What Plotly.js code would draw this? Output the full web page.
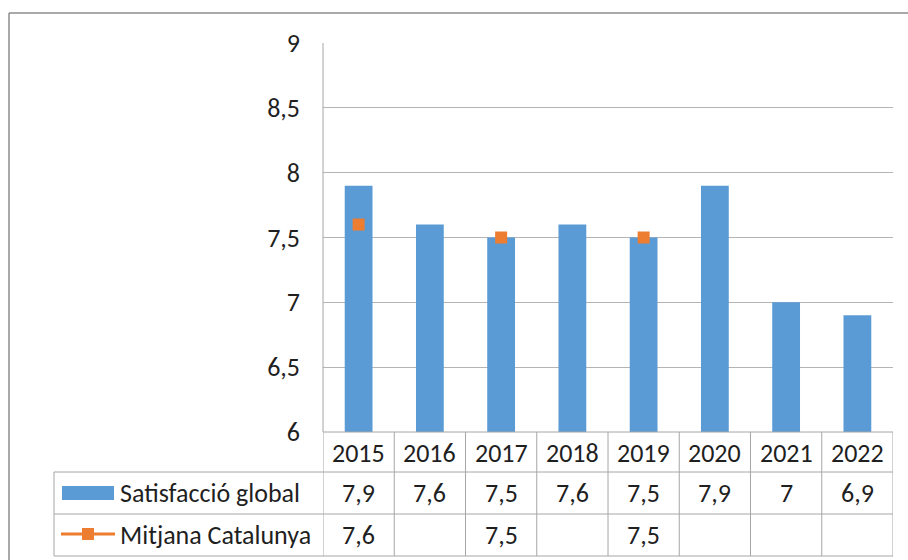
<!DOCTYPE html>
<html>
<head>
<meta charset="utf-8">
<script src="https://cdn.plot.ly/plotly-3.0.1.min.js"></script>
<style>
html,body{margin:0;padding:0;background:#fff;}
#chart{width:908px;height:560px;}
</style>
</head>
<body>
<div id="chart"></div>
<script>
// ---- data ----
const years = ["2015", "2016", "2017", "2018", "2019", "2020", "2021", "2022"];
const satisfaccio = [7.9, 7.6, 7.5, 7.6, 7.5, 7.9, 7.0, 6.9];
const mitjana = [7.6, null, 7.5, null, 7.5, null, null, null];
const seriesNames = ["Satisfacció global", "Mitjana Catalunya"];

// ---- layout helpers (pixel -> paper) ----
const W = 908, H = 560;
const M = {l: 323, r: 15, t: 43, b: 128};
const PW = W - M.l - M.r, PH = H - M.t - M.b;
const px = v => (v - M.l) / PW;
const py = v => (H - M.b - v) / PH;

const FONT = "Carlito, Lato, 'Open Sans', sans-serif";
const FS = 26;
const TXT = "#1f1f1f";
const GRID = "#B4B4B4";
const TBL = "#A6A6A6";
const BLUE = "#5B9BD5";
const ORANGE = "#ED7D31";

const idx = years.map((_, i) => i);
const fmt = v => (v === null || v === undefined) ? "" : String(v).replace(".", ",");

const traces = [
  {
    type: "bar", x: idx, y: satisfaccio, name: seriesNames[0],
    marker: {color: BLUE}, width: 0.39, hoverinfo: "skip"
  },
  {
    type: "scatter", mode: "lines+markers", x: idx, y: mitjana, name: seriesNames[1],
    connectgaps: false, line: {color: ORANGE, width: 3},
    marker: {symbol: "square", size: 12, color: ORANGE}, hoverinfo: "skip"
  }
];

const shapes = [];
const line = (x0, y0, x1, y1, color, w) => shapes.push({
  type: "line", xref: "paper", yref: "paper",
  x0: px(x0), y0: py(y0), x1: px(x1), y1: py(y1),
  line: {color: color, width: w || 1}, layer: "above"
});

// outer chart border
line(9, 13, 908, 13, "#8C8C8C", 1.5);
line(9, 13, 9, 560, "#8C8C8C", 1.5);

// axis line (plot area left)
line(M.l, M.t, M.l, H - M.b, TBL, 1);

// table horizontal lines
const right = W - M.r;
line(M.l, 432, right, 432, TBL, 1);
line(54, 472, right, 472, TBL, 1);
line(54, 514, right, 514, TBL, 1);
line(54, 556, right, 556, TBL, 1);
line(54, 472, 54, 556, TBL, 1);

// table vertical lines at category boundaries
for (let i = 0; i <= years.length; i++) {
  shapes.push({
    type: "line", xref: "x", yref: "paper",
    x0: i - 0.5, x1: i - 0.5, y0: py(432), y1: py(556),
    line: {color: TBL, width: 1}, layer: "above"
  });
}

// legend keys
shapes.push({type: "rect", xref: "paper", yref: "paper",
  x0: px(62), x1: px(114), y0: py(486), y1: py(500),
  fillcolor: BLUE, line: {width: 0}, layer: "above"});
line(61, 534, 115, 534, ORANGE, 3);
shapes.push({type: "rect", xref: "paper", yref: "paper",
  x0: px(82), x1: px(94), y0: py(528), y1: py(540),
  fillcolor: ORANGE, line: {width: 0}, layer: "above"});

const annotations = [];
const ann = (x, xref, yPix, text, xanchor) => annotations.push({
  x: x, xref: xref, y: py(yPix), yref: "paper", text: text,
  showarrow: false, xanchor: xanchor || "center", yanchor: "middle",
  font: {family: FONT, size: FS, color: TXT}
});

years.forEach((yr, i) => {
  ann(i, "x", 453, yr);
  ann(i, "x", 493, fmt(satisfaccio[i]));
  ann(i, "x", 535, fmt(mitjana[i]));
});
ann(px(118), "paper", 493, seriesNames[0], "left");
ann(px(118), "paper", 535, seriesNames[1], "left");

const layout = {
  width: W, height: H,
  margin: M,
  paper_bgcolor: "#fff", plot_bgcolor: "#fff",
  showlegend: false,
  separators: ",.",
  font: {family: FONT, size: FS, color: TXT},
  xaxis: {
    range: [-0.5, years.length - 0.5], showticklabels: false, showgrid: false,
    zeroline: false, showline: false, ticks: "", fixedrange: true
  },
  yaxis: {
    range: [6, 9], dtick: 0.5, tick0: 6, showgrid: true, gridcolor: GRID, gridwidth: 1,
    zeroline: false, showline: false, ticks: "", ticklabelstandoff: 22,
    tickfont: {family: FONT, size: FS, color: TXT}, fixedrange: true
  },
  shapes: shapes,
  annotations: annotations,
  bargap: 0.6
};

Plotly.newPlot("chart", traces, layout, {displayModeBar: false, staticPlot: true});
</script>
</body>
</html>
